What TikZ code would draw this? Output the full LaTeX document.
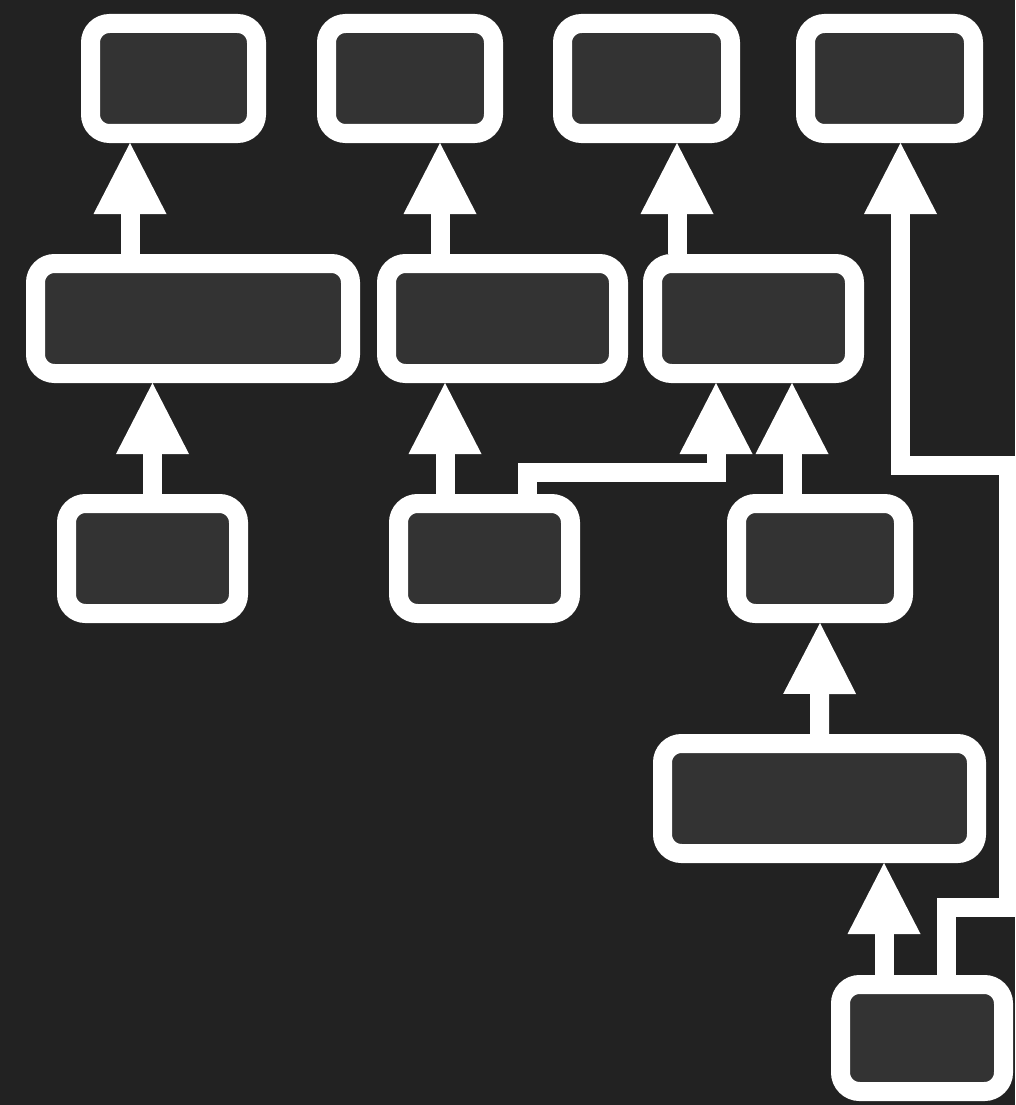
\documentclass[tikz,border=0pt]{standalone}
\usetikzlibrary{arrows.meta}
\definecolor{canvas}{HTML}{222222}
\definecolor{boxfill}{HTML}{333333}
\begin{document}
\begin{tikzpicture}[x=1pt,y=-1pt,
  box/.style={draw=white, fill=boxfill, line width=19pt, rounded corners=19pt,
    minimum height=110pt, inner sep=0pt},
  conn/.style={draw=white, line width=19pt,
    -{Triangle[length=71pt,width=73pt,line width=0pt]}}]
  % canvas
  \fill[canvas] (0,0) rectangle (1015,1105);
  \useasboundingbox (0,0) rectangle (1015,1105);
  \clip (0,0) rectangle (1015,1105);

  % top row
  \node[box, minimum width=166pt] (B1) at (173.5,78.5) {};
  \node[box, minimum width=167pt] (B2) at (410,78.5) {};
  \node[box, minimum width=168pt] (B3) at (646.5,78.5) {};
  \node[box, minimum width=168pt] (B4) at (889.5,78.5) {};

  % second row
  \node[box, minimum width=315pt] (C1) at (193,318.5) {};
  \node[box, minimum width=232pt] (C2) at (502.5,318.5) {};
  \node[box, minimum width=202pt] (C3) at (753.5,318.5) {};

  % third row
  \node[box, minimum width=172pt] (D1) at (152.5,558.5) {};
  \node[box, minimum width=172pt] (D2) at (484.5,558.5) {};
  \node[box, minimum width=167pt] (D3) at (820,558.5) {};

  % lower boxes
  \node[box, minimum width=314pt] (E1) at (819.5,798.5) {};
  \node[box, minimum width=163pt, minimum height=107pt] (F1) at (922,1038) {};

  % connectors
  \draw[conn] ([xshift=-63pt]C1.north) -- ([xshift=-43.5pt]B1.south);
  \draw[conn] (D1.north) -- ([xshift=-40.5pt]C1.south);
  \draw[conn] ([xshift=-62.5pt]C2.north) -- ([xshift=30pt]B2.south);
  \draw[conn] ([xshift=-39.5pt]D2.north) -- ([xshift=-57.5pt]C2.south);
  \draw[conn] ([xshift=42.5pt]D2.north) -- ++(0,-22) -| ([xshift=-37.5pt]C3.south);
  \draw[conn] ([xshift=-28pt]D3.north) -- ([xshift=38.5pt]C3.south);
  \draw[conn] ([xshift=-76.5pt]C3.north) -- ([xshift=30.5pt]B3.south);
  \draw[conn] (E1.north) -- (D3.south);
  \draw[conn] ([xshift=-38pt]F1.north) -- ([xshift=64.5pt]E1.south);
  \draw[conn] ([xshift=24.5pt]F1.north) -- ++(0,-67.5) -- ++(62,0)
    -- ++(0,-442.5) -- ++(-108,0) -- ([xshift=11pt]B4.south);
\end{tikzpicture}
\end{document}
